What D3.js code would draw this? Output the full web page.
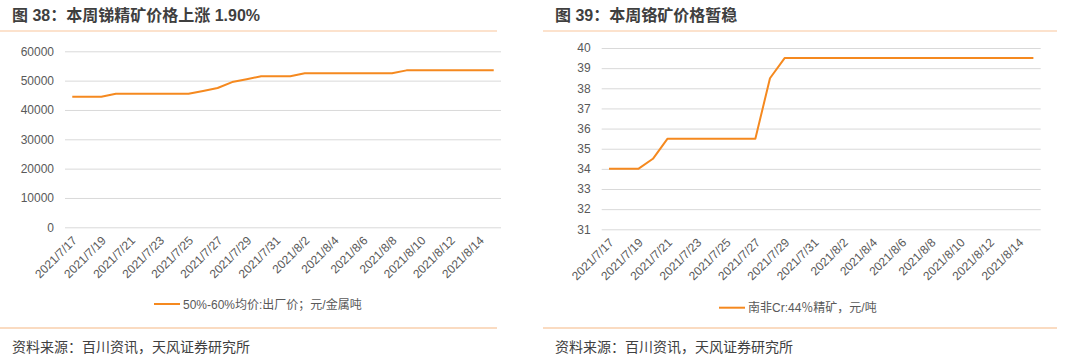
<!DOCTYPE html>
<html><head><meta charset="utf-8">
<script src="https://cdn.jsdelivr.net/npm/d3@7"></script>
<style>
body{margin:0;background:#fff;}
svg text{font-family:"Liberation Sans","Noto Sans CJK SC",sans-serif;}
</style></head>
<body><svg id="c" width="1080" height="361"></svg>
<script>
const dates = ["2021/7/17","2021/7/18","2021/7/19","2021/7/20","2021/7/21","2021/7/22","2021/7/23","2021/7/24","2021/7/25","2021/7/26","2021/7/27","2021/7/28","2021/7/29","2021/7/30","2021/7/31","2021/8/1","2021/8/2","2021/8/3","2021/8/4","2021/8/5","2021/8/6","2021/8/7","2021/8/8","2021/8/9","2021/8/10","2021/8/11","2021/8/12","2021/8/13","2021/8/14","2021/8/15"];
const tickLabels = ["2021/7/17","2021/7/19","2021/7/21","2021/7/23","2021/7/25","2021/7/27","2021/7/29","2021/7/31","2021/8/2","2021/8/4","2021/8/6","2021/8/8","2021/8/10","2021/8/12","2021/8/14"];
const antimonyPrice = [44500,44500,44500,45500,45500,45500,45500,45500,45500,46500,47500,49500,50500,51500,51500,51500,52500,52500,52500,52500,52500,52500,52500,53500,53500,53500,53500,53500,53500,53500];
const chromePrice = [34,34,34,34.5,35.5,35.5,35.5,35.5,35.5,35.5,35.5,38.5,39.5,39.5,39.5,39.5,39.5,39.5,39.5,39.5,39.5,39.5,39.5,39.5,39.5,39.5,39.5,39.5,39.5,39.5];
const antimonyTicks = [0,10000,20000,30000,40000,50000,60000];
const chromeTicks = [31,32,33,34,35,36,37,38,39,40];

const svg = d3.select("#c");
const ORANGE = "#F5891F";

function panel(o){
  const g = svg.append("g");
  g.append("text").attr("x", o.titleX).attr("y", 21).attr("font-size", 16).attr("font-weight", "bold")
    .attr("fill", "#3f3f3f").text(o.title);
  g.append("line").attr("x1", o.sepX1).attr("x2", o.sepX2).attr("y1", 31).attr("y2", 31)
    .attr("stroke", "#FBD9BD").attr("stroke-width", 1.5);
  g.append("line").attr("x1", o.sepX1).attr("x2", o.sepX2).attr("y1", 328).attr("y2", 328)
    .attr("stroke", "#F6B883").attr("stroke-width", 1.2);
  g.append("text").attr("x", o.titleX).attr("y", 352).attr("font-size", 14)
    .attr("fill", "#404040").text("资料来源：百川资讯，天风证券研究所");

  const x = d3.scalePoint().domain(dates).range([o.x0, o.x1]).padding(0.5);
  const y = d3.scaleLinear().domain(o.domain).range([o.y0, o.y1]);

  const ya = g.append("g").attr("transform", `translate(${o.x0},0)`)
    .call(d3.axisLeft(y).tickValues(o.ticks).tickSize(-(o.x1 - o.x0)).tickPadding(11).tickFormat(d3.format("d")));
  ya.select(".domain").remove();
  ya.selectAll(".tick line").attr("stroke", "#D9D9D9").attr("stroke-width", 1);
  ya.selectAll(".tick text").attr("fill", "#595959").attr("font-size", 12)
    .style("font-family", '"Liberation Sans",sans-serif');

  const xa = g.append("g").attr("transform", `translate(0,${o.y0})`)
    .call(d3.axisBottom(x).tickValues(tickLabels).tickSize(0));
  xa.select(".domain").remove();
  xa.selectAll(".tick text").attr("fill", "#595959").attr("font-size", 12)
    .style("font-family", '"Liberation Sans",sans-serif')
    .attr("text-anchor", "end").attr("dy", null).attr("y", 0)
    .attr("transform", "translate(5,14) rotate(-45)");

  const line = d3.line().x((d, i) => x(dates[i])).y(d => y(d));
  g.append("path").datum(o.values).attr("d", line).attr("fill", "none")
    .attr("stroke", ORANGE).attr("stroke-width", 2).attr("stroke-linejoin", "round");

  g.append("line").attr("x1", o.legX).attr("x2", o.legX + 26).attr("y1", o.legY).attr("y2", o.legY)
    .attr("stroke", ORANGE).attr("stroke-width", 2);
  g.append("text").attr("x", o.legX + 29).attr("y", o.legY + 4.5).attr("font-size", 12)
    .attr("fill", "#595959").text(o.legend);
}

panel({title:"图 38：本周锑精矿价格上涨 1.90%", titleX:12, sepX1:0, sepX2:497,
  x0:65, x1:501, y0:227.3, y1:51.3, domain:[0,60000], ticks:antimonyTicks, values:antimonyPrice,
  legX:154, legY:304, legend:"50%-60%均价:出厂价；元/金属吨"});
panel({title:"图 39：本周铬矿价格暂稳", titleX:555, sepX1:543, sepX2:1057,
  x0:601.7, x1:1040.7, y0:229.3, y1:48, domain:[31,40], ticks:chromeTicks, values:chromePrice,
  legX:719, legY:307.7, legend:"南非Cr:44％精矿，元/吨"});
</script></body></html>
